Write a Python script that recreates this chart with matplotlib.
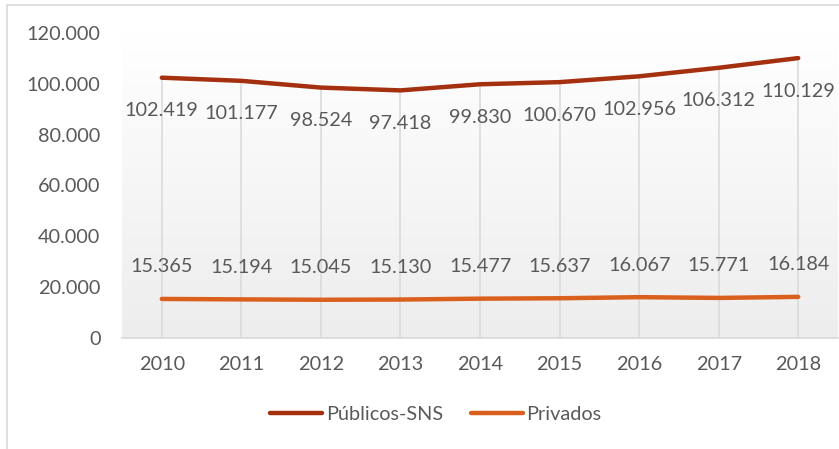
import numpy as np
import matplotlib
matplotlib.use("Agg")
import matplotlib.pyplot as plt
from matplotlib.patches import Rectangle

years = ["2010", "2011", "2012", "2013", "2014", "2015", "2016", "2017", "2018"]
publicos = [102419, 101177, 98524, 97418, 99830, 100670, 102956, 106312, 110129]
privados = [15365, 15194, 15045, 15130, 15477, 15637, 16067, 15771, 16184]
series_names = ["Públicos-SNS", "Privados"]

plt.rcParams['font.family'] = ['Lato', 'DejaVu Sans']
txt = '#595959'


def fmt(v):
    return f"{v:,}".replace(",", ".")


fig = plt.figure(figsize=(8.39, 4.49), dpi=100)
# outer chart border (left/top visible)
fig.patches.append(Rectangle((7 / 839, -0.1), 1.2, 1 - 5 / 449 + 0.1,
                             transform=fig.transFigure, fill=False,
                             edgecolor='#d9d9d9', lw=1.2))

ax = fig.add_axes([122 / 839, 1 - 338 / 449, 716 / 839, 305 / 449])
x = np.arange(len(years))
ax.set_xlim(-0.5, len(years) - 0.5)
ax.set_ylim(0, 120000)

# plot area gradient
grad = np.linspace(1, 0, 256).reshape(-1, 1)
ax.imshow(grad, extent=(-0.5, len(years) - 0.5, 0, 120000), aspect='auto',
          cmap=matplotlib.colors.LinearSegmentedColormap.from_list(
              'g', ['#ededed', '#ffffff']), zorder=0, origin='upper')

# drop lines
for xi, v in zip(x, publicos):
    ax.plot([xi, xi], [0, v], color='#d9d9d9', lw=1.1, zorder=1)

ax.plot(x, publicos, color='#A5300F', lw=3.2, solid_capstyle='round',
        label=series_names[0], zorder=3)
ax.plot(x, privados, color='#DA601D', lw=3.2, solid_capstyle='round',
        label=series_names[1], zorder=3)

for xi, v in zip(x, publicos):
    ax.annotate(fmt(v), (xi, v), xytext=(0, -33), textcoords='offset pixels',
                ha='center', va='center', fontsize=14.3, color=txt)
for xi, v in zip(x, privados):
    ax.annotate(fmt(v), (xi, v), xytext=(0, 32), textcoords='offset pixels',
                ha='center', va='center', fontsize=14.3, color=txt)

ax.set_xticks(x)
ax.set_xticklabels(years)
ax.set_yticks(np.arange(0, 120001, 20000))
ax.set_yticklabels([fmt(int(t)) for t in np.arange(0, 120001, 20000)])
ax.tick_params(length=0, labelsize=14.3, colors=txt)
ax.tick_params(axis='y', pad=15.5)
ax.tick_params(axis='x', pad=13)
for s in ['top', 'right', 'left']:
    ax.spines[s].set_visible(False)
ax.spines['bottom'].set_color('#d9d9d9')
ax.spines['bottom'].set_linewidth(1.2)

leg = fig.legend(loc='center', bbox_to_anchor=(436 / 839, 1 - 414 / 449),
                 ncol=2, frameon=False, fontsize=14.3, handlelength=2.6,
                 handletextpad=0.2, columnspacing=1.4)
for t in leg.get_texts():
    t.set_color(txt)

fig.savefig('out.png', dpi=100)
